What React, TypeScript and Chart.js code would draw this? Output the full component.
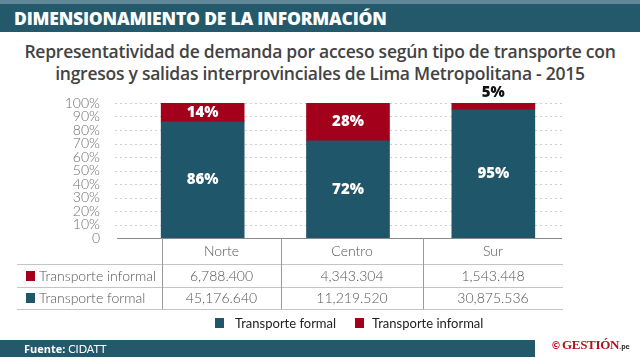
import React, { useEffect, useRef } from 'react';
import { Chart, registerables } from 'chart.js';

Chart.register(...registerables);

const categories = ['Norte', 'Centro', 'Sur'];
const seriesNames = ['Transporte formal', 'Transporte informal'];
const formalPct = [86, 72, 95];
const informalPct = [14, 28, 5];
const yTickLabels = ['0', '10%', '20%', '30%', '40%', '50%', '60%', '70%', '80%', '90%', '100%'];
const informalTotals = ['6,788.400', '4,343.304', '1,543.448'];
const formalTotals = ['45,176.640', '11,219.520', '30,875.536'];

const TEAL = '#1f5669';
const RED = '#a3001c';
const BANNER = '#24596b';
const LIGHT_FONT = "Lato, 'Open Sans', sans-serif";
const BOLD_FONT = "'Open Sans', Lato, sans-serif";

const gridPlugin = {
  id: 'customGrid',
  beforeDatasetsDraw(chart: any) {
    const ctx = chart.ctx;
    const y = chart.scales.y;
    ctx.save();
    ctx.strokeStyle = '#cfcfcf';
    ctx.lineWidth = 1;
    ctx.setLineDash([2, 3]);
    for (let v = 10; v <= 100; v += 10) {
      const py = Math.round(y.getPixelForValue(v)) + 0.5;
      ctx.beginPath();
      ctx.moveTo(115, py);
      ctx.lineTo(562, py);
      ctx.stroke();
    }
    ctx.restore();
  },
  afterDatasetsDraw(chart: any) {
    const ctx = chart.ctx;
    const y = chart.scales.y;
    ctx.save();
    ctx.strokeStyle = '#8a8a8a';
    ctx.lineWidth = 1.2;
    const py = Math.round(y.getPixelForValue(0)) + 0.5;
    ctx.beginPath();
    ctx.moveTo(117, py);
    ctx.lineTo(562, py);
    ctx.stroke();

    ctx.font = `800 15px ${BOLD_FONT}`;
    ctx.textAlign = 'center';
    ctx.textBaseline = 'middle';
    chart.data.datasets.forEach((ds: any, di: number) => {
      const meta = chart.getDatasetMeta(di);
      meta.data.forEach((bar: any, i: number) => {
        const val = ds.data[i];
        const txt = `${val}%`;
        if (val < 8) {
          ctx.fillStyle = '#111';
          ctx.fillText(txt, bar.x, bar.y - 10);
        } else {
          ctx.fillStyle = '#ffffff';
          ctx.fillText(txt, bar.x, (bar.y + bar.base) / 2);
        }
      });
    });
    ctx.restore();
  },
};

function ChartCanvas() {
  const ref = useRef<HTMLCanvasElement>(null);
  useEffect(() => {
    if (!ref.current) return;
    const chart = new Chart(ref.current, {
      type: 'bar',
      data: {
        labels: categories,
        datasets: [
          { label: seriesNames[0], data: formalPct, backgroundColor: TEAL, barThickness: 83, stack: 's' },
          { label: seriesNames[1], data: informalPct, backgroundColor: RED, barThickness: 83, stack: 's' },
        ],
      },
      options: {
        animation: false,
        responsive: false,
        maintainAspectRatio: false,
        layout: { padding: { top: 18, bottom: 7, right: 74, left: 0 } },
        plugins: { legend: { display: false }, tooltip: { enabled: false } },
        scales: {
          x: { stacked: true, display: false },
          y: {
            stacked: true,
            min: 0,
            max: 100,
            afterFit: (s: any) => {
              s.width = 130;
              s.paddingTop = 0;
              s.paddingBottom = 0;
            },
            grid: { display: false },
            border: { display: false },
            ticks: {
              stepSize: 10,
              autoSkip: false,
              padding: 22,
              color: '#6e6e6e',
              font: { family: LIGHT_FONT, size: 14, weight: '300' },
              callback: (v: any) => yTickLabels[Math.round(Number(v) / 10)],
            },
          },
        },
      },
      plugins: [gridPlugin],
    } as any);
    return () => chart.destroy();
  }, []);
  return (
    <canvas
      ref={ref}
      width={640}
      height={160}
      style={{ position: 'absolute', left: 0, top: 85, width: 640, height: 160 }}
    />
  );
}

const colBounds = [162, 281, 423, 563];
const rowLines = [264, 287, 309];

export default function App() {
  const rows = [
    { name: seriesNames[1], color: RED, values: informalTotals, cy: 276 },
    { name: seriesNames[0], color: TEAL, values: formalTotals, cy: 298 },
  ];
  return (
    <div style={{ position: 'relative', width: 640, height: 357, background: '#fff', overflow: 'hidden', fontFamily: LIGHT_FONT }}>
      <style>{`body{margin:0}`}</style>
      <div style={{ position: 'absolute', left: 0, top: 0, width: 640, height: 4, background: '#5f8797' }} />
      <div style={{ position: 'absolute', left: 0, top: 4, width: 640, height: 28, background: BANNER }} />
      <div
        style={{
          position: 'absolute', left: 14, top: 4, height: 28, lineHeight: '28px', color: '#fff',
          fontFamily: BOLD_FONT, fontWeight: 800, fontSize: 17.5, letterSpacing: '-0.2px', whiteSpace: 'nowrap',
        }}
      >
        DIMENSIONAMIENTO DE LA INFORMACIÓN
      </div>
      <div
        style={{
          position: 'absolute', left: 0, top: 40, width: 640, textAlign: 'center', color: '#434343',
          fontFamily: BOLD_FONT, fontWeight: 600, fontSize: 17.5, lineHeight: '22px', letterSpacing: '-0.25px',
        }}
      >
        <div>Representatividad de demanda por acceso según tipo de transporte con</div>
        <div>ingresos y salidas interprovinciales de Lima Metropolitana - 2015</div>
      </div>

      <ChartCanvas />

      {rowLines.map((y, i) => (
        <div key={'h' + i} style={{ position: 'absolute', left: 17, top: y, width: 563 - 17, height: 1, background: '#c4c4c4' }} />
      ))}
      {colBounds.slice(0, 3).map((x, i) => (
        <div key={'v' + i} style={{ position: 'absolute', left: x, top: 238, width: 1, height: 309 - 238, background: '#9a9a9a' }} />
      ))}
      {categories.map((c, i) => (
        <div
          key={'c' + i}
          style={{
            position: 'absolute', left: colBounds[i], width: colBounds[i + 1] - colBounds[i], top: 241, height: 20,
            lineHeight: '20px', textAlign: 'center', color: '#555', fontSize: 14, fontWeight: 300,
          }}
        >
          {c}
        </div>
      ))}
      {rows.map((r, ri) => (
        <React.Fragment key={'r' + ri}>
          <div style={{ position: 'absolute', left: 26, top: r.cy - 5, width: 9, height: 10, background: r.color }} />
          <div
            style={{
              position: 'absolute', left: 39, top: r.cy - 10, height: 20, lineHeight: '20px', color: '#555',
              fontSize: 14, fontWeight: 300, whiteSpace: 'nowrap',
            }}
          >
            {r.name}
          </div>
          {r.values.map((v, i) => (
            <div
              key={i}
              style={{
                position: 'absolute', left: colBounds[i], width: colBounds[i + 1] - colBounds[i], top: r.cy - 10,
                height: 20, lineHeight: '20px', textAlign: 'center', color: '#555', fontSize: 14, fontWeight: 300,
              }}
            >
              {v}
            </div>
          ))}
        </React.Fragment>
      ))}

      <div style={{ position: 'absolute', left: 215, top: 318, width: 9, height: 10, background: TEAL }} />
      <div style={{ position: 'absolute', left: 235, top: 313, lineHeight: '20px', fontSize: 13, color: '#222', whiteSpace: 'nowrap', fontWeight: 400 }}>
        {seriesNames[0]}
      </div>
      <div style={{ position: 'absolute', left: 355, top: 318, width: 9, height: 10, background: RED }} />
      <div style={{ position: 'absolute', left: 372, top: 313, lineHeight: '20px', fontSize: 13, color: '#222', whiteSpace: 'nowrap', fontWeight: 400 }}>
        {seriesNames[1]}
      </div>

      <div style={{ position: 'absolute', left: 0, top: 340, width: 535, height: 17, background: BANNER }} />
      <div style={{ position: 'absolute', left: 24, top: 340, height: 17, lineHeight: '17px', fontSize: 11, color: '#fff', whiteSpace: 'nowrap' }}>
        <span style={{ fontFamily: BOLD_FONT, fontWeight: 700 }}>Fuente:</span>
        <span> CIDATT</span>
      </div>
      <div style={{ position: 'absolute', left: 551, top: 334, height: 18, lineHeight: '18px', whiteSpace: 'nowrap', color: '#b3121d' }}>
        <span style={{ fontFamily: "'DejaVu Sans', sans-serif", fontSize: 10, fontWeight: 700 }}>©</span>
        <span style={{ fontFamily: "'Liberation Serif', serif", fontSize: 13, fontWeight: 700, marginLeft: 1, letterSpacing: '-0.3px' }}>GESTIÓN</span>
        <span style={{ fontFamily: BOLD_FONT, fontSize: 7, fontWeight: 700, color: '#333' }}>.pe</span>
      </div>
    </div>
  );
}
